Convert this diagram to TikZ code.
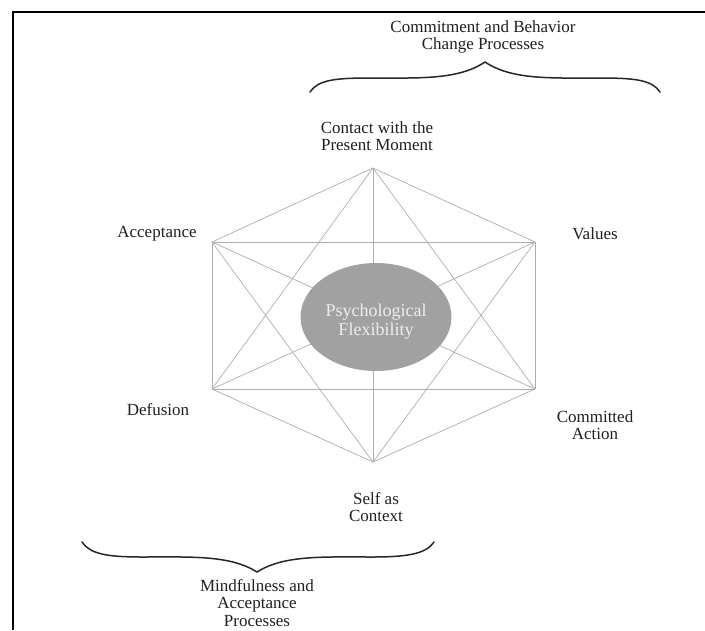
\documentclass[tikz,border=0pt]{standalone}
\usepackage{fontspec}
\setmainfont{Liberation Serif}
\usetikzlibrary{shapes.geometric}
\begin{document}
\begin{tikzpicture}[x=1pt,y=-1pt,
  lbl/.style={align=center,inner sep=0pt,font=\fontsize{17}{17.5}\selectfont,text=black!88},
  web/.style={draw=black!32,line width=0.7pt},
  bracepath/.style={draw=black!85,line width=1.5pt,line cap=round},
  framepath/.style={draw=black,line width=1.3pt}]
\useasboundingbox (0,0) rectangle (705,630);
% frame
\draw[framepath] (13,630) -- (13,12) -- (705,12);
% vertices
\coordinate (T) at (373,168);
\coordinate (LU) at (212,242);
\coordinate (RU) at (535,242);
\coordinate (LL) at (212,389);
\coordinate (RL) at (535,389);
\coordinate (B) at (373,462);
% complete graph
\foreach \a/\b in {T/LU,T/RU,T/LL,T/RL,T/B,LU/RU,LU/LL,LU/RL,LU/B,RU/LL,RU/RL,RU/B,LL/RL,LL/B,RL/B}
  \draw[web] (\a) -- (\b);
% centre ellipse
\node[ellipse,fill=black!37,minimum width=151pt,minimum height=108pt,inner sep=0pt] (pf) at (376,317) {};
\node[align=center,inner sep=0pt,font=\fontsize{18}{19}\selectfont,text=black!7] (pft) at (376,322) {Psychological\\Flexibility};
% labels
\node[lbl] (cbc) at (483,37) {Commitment and Behavior\\Change Processes};
\node[lbl] (cpm) at (377,136) {Contact with the\\Present Moment};
\node[lbl] (acc) at (157,234) {Acceptance};
\node[lbl] (val) at (595,234) {Values};
\node[lbl] (def) at (158,410) {Defusion};
\node[lbl] (com) at (595,425) {Committed\\Action};
\node[lbl] (sac) at (376,507) {Self as\\Context};
\node[lbl] (maa) at (257,603) {Mindfulness and\\Acceptance\\Processes};
% braces
\draw[bracepath] (310,92) .. controls (318,80) and (335,78) .. (370,78)
  .. controls (420,78) and (458,80) .. (485,62)
  .. controls (512,80) and (550,78) .. (600,78)
  .. controls (635,78) and (652,80) .. (660,92);
\draw[bracepath] (82,542) .. controls (90,554) and (107,557) .. (142,557)
  .. controls (192,557) and (230,555) .. (257,572)
  .. controls (284,555) and (322,557) .. (372,557)
  .. controls (407,557) and (426,554) .. (434,542);
\end{tikzpicture}
\end{document}
